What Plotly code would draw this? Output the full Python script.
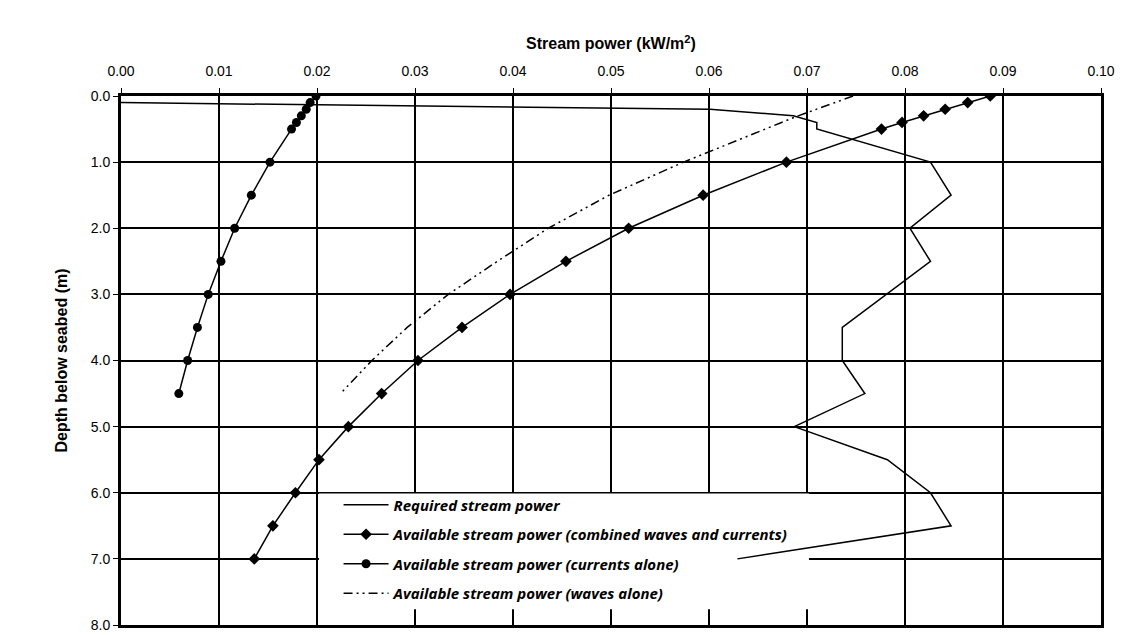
import plotly.graph_objects as go

# ---------------- data ----------------
req_depth = [0.1, 0.2, 0.3, 0.4, 0.5, 1.0, 1.5, 2.0, 2.5, 3.5, 4.0, 4.5, 5.0, 5.5, 6.0, 6.5, 7.0]
req_power = [0.0, 0.0601, 0.0686, 0.0710, 0.0710, 0.0826, 0.0847, 0.0805, 0.0826,
             0.0736, 0.0736, 0.0759, 0.0687, 0.0782, 0.0826, 0.0847, 0.0629]

comb_depth = [0.0, 0.1, 0.2, 0.3, 0.4, 0.5, 1.0, 1.5, 2.0, 2.5, 3.0, 3.5, 4.0, 4.5, 5.0, 5.5, 6.0, 6.5, 7.0]
comb_power = [0.0887, 0.0864, 0.0841, 0.0819, 0.0797, 0.0776, 0.0679, 0.0594, 0.0518, 0.0454,
              0.0397, 0.0348, 0.0303, 0.0266, 0.0232, 0.0202, 0.0178, 0.0155, 0.0136]

curr_depth = [0.0, 0.1, 0.2, 0.3, 0.4, 0.5, 1.0, 1.5, 2.0, 2.5, 3.0, 3.5, 4.0, 4.5]
curr_power = [0.0199, 0.0193, 0.0189, 0.0184, 0.0179, 0.0174, 0.0152, 0.0133, 0.0116, 0.0102,
              0.0089, 0.0078, 0.0068, 0.0059]

wave_depth = [0.0, 0.1, 0.2, 0.3, 0.4, 0.5, 1.0, 1.5, 2.0, 2.5, 3.0, 3.5, 4.0, 4.5]
wave_power = [0.0747, 0.0728, 0.0709, 0.0691, 0.0674, 0.0657, 0.0574, 0.0498, 0.0436, 0.0384,
              0.0334, 0.0292, 0.0256, 0.0224]

series_names = [
    "Required stream power",
    "Available stream power (combined waves and currents)",
    "Available stream power (currents alone)",
    "Available stream power (waves alone)",
]

x_title = "Stream power (kW/m<sup>2</sup>)"
y_title = "Depth below seabed (m)"

# ---------------- figure ----------------
fig = go.Figure()

fig.add_trace(go.Scatter(x=req_power, y=req_depth, mode="lines", name=series_names[0],
                         legendgroup="a", line=dict(color="black", width=1.5)))
fig.add_trace(go.Scatter(x=comb_power, y=comb_depth, mode="lines+markers", name=series_names[1],
                         legendgroup="b", line=dict(color="black", width=1.5),
                         marker=dict(symbol="diamond", size=9, color="black")))
fig.add_trace(go.Scatter(x=curr_power, y=curr_depth, mode="lines+markers", name=series_names[2],
                         legendgroup="c", line=dict(color="black", width=1.5),
                         marker=dict(symbol="circle", size=9, color="black")))
fig.add_trace(go.Scatter(x=wave_power, y=wave_depth, mode="lines", name=series_names[3],
                         legendgroup="d",
                         line=dict(color="black", width=1.5, dash="9px,4px,2px,4px,2px,4px")))

# white legend panel that hides gridlines but stays beneath traces
fig.add_shape(type="rect", xref="x", yref="y", x0=0.0202, x1=0.0702, y0=6.01, y1=7.76,
              layer="between", fillcolor="white", line=dict(width=0))

axis_font = dict(family="Liberation Sans, Arial, sans-serif", size=14, color="black")
title_font = dict(family="Liberation Sans, Arial, sans-serif", size=16, color="black", weight="bold")

fig.update_xaxes(
    side="top", range=[0, 0.1], dtick=0.01, tick0=0, tickformat=".2f",
    showgrid=True, gridcolor="black", gridwidth=2,
    showline=True, linecolor="black", linewidth=3, mirror=True,
    ticks="outside", ticklen=5, tickcolor="black", tickwidth=1,
    ticklabelstandoff=6,
    tickfont=axis_font, zeroline=False, automargin=False,
    title=dict(text=x_title, font=title_font, standoff=10),
)
fig.update_yaxes(
    range=[8, 0], dtick=1, tick0=0, tickformat=".1f",
    showgrid=True, gridcolor="black", gridwidth=2,
    showline=True, linecolor="black", linewidth=3, mirror=True,
    ticks="outside", ticklen=5, tickcolor="black", tickwidth=1,
    tickfont=axis_font, zeroline=False, automargin=False,
    title=dict(text=y_title, font=title_font, standoff=20),
)

fig.update_layout(
    width=1134, height=635,
    margin=dict(l=121, r=33, t=96, b=10),
    paper_bgcolor="white", plot_bgcolor="white",
    showlegend=True,
    legend=dict(
        x=0.222, y=0.258, xanchor="left", yanchor="top",
        bgcolor="rgba(0,0,0,0)", borderwidth=0,
        tracegroupgap=7, itemwidth=45,
        font=dict(family="Open Sans, sans-serif", size=15, color="black",
                  style="italic", weight="bold"),
    ),
)

fig.write_html("out.html")
